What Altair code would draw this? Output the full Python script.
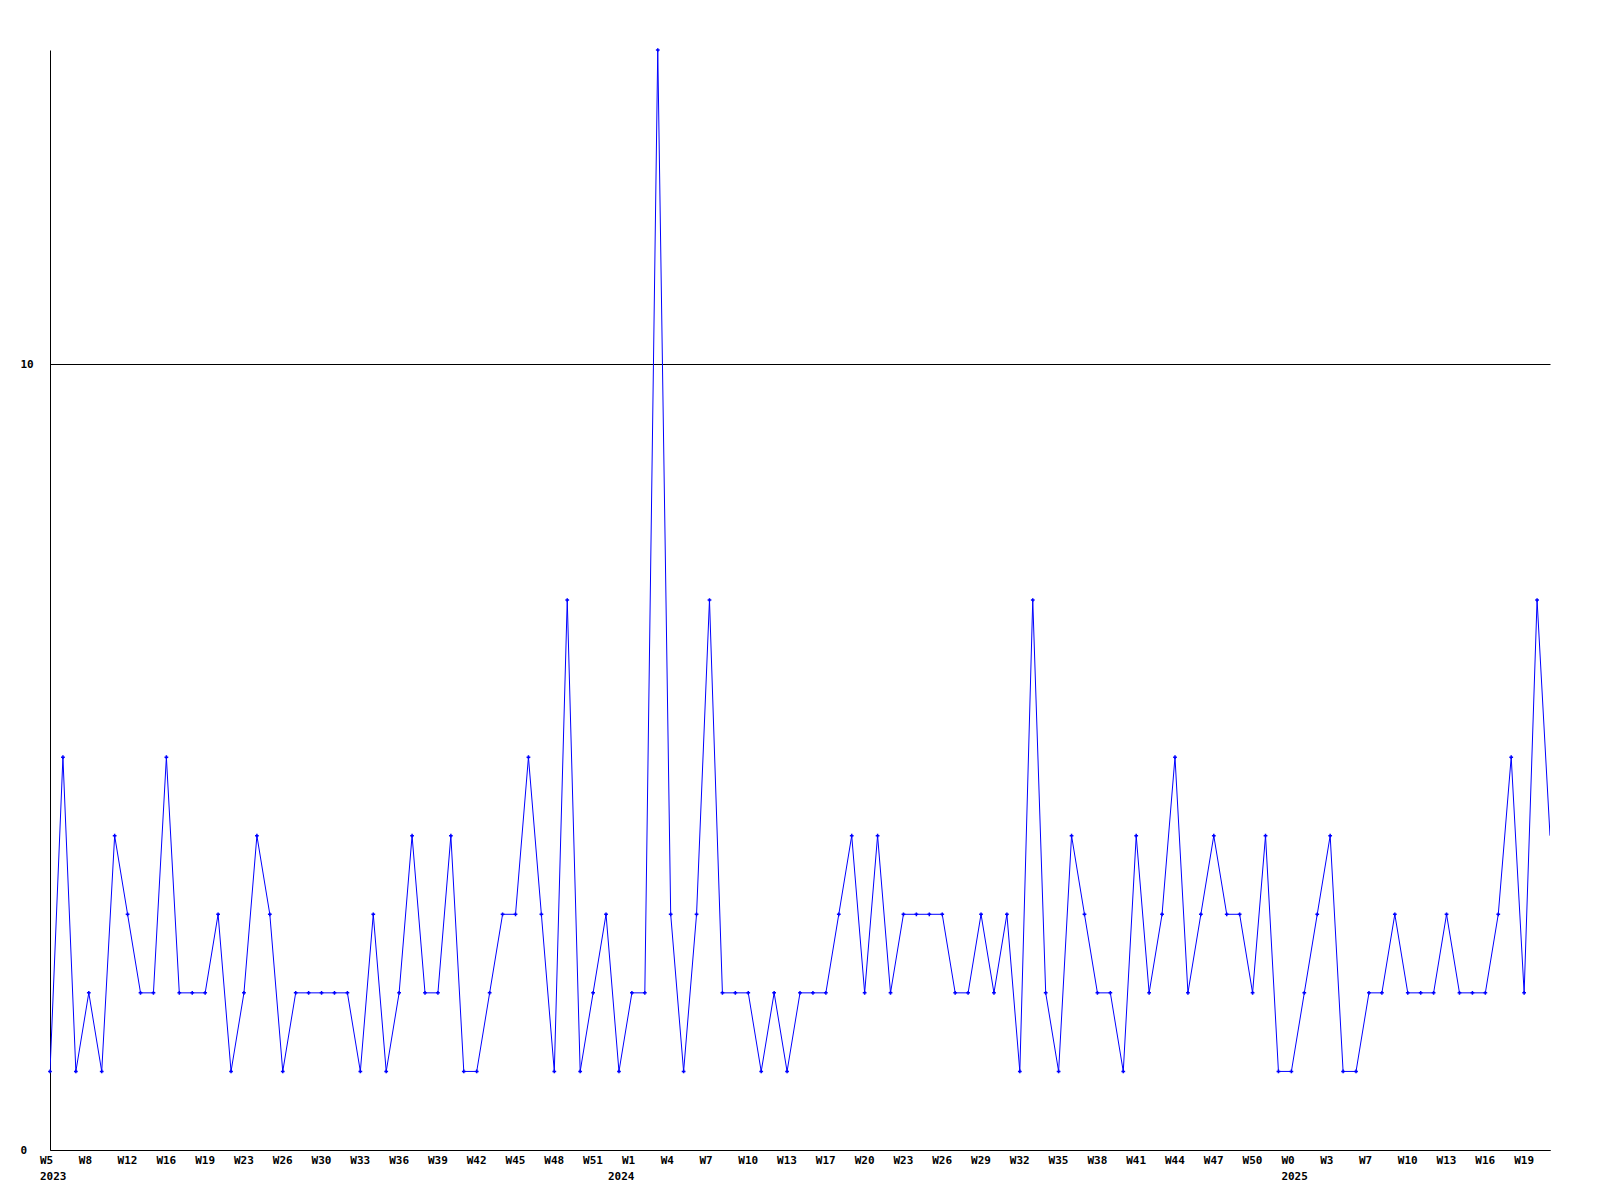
import altair as alt
import pandas as pd

values = [1, 5, 1, 2, 1, 4, 3, 2, 2, 5, 2, 2, 2, 3, 1, 2, 4, 3, 1, 2,
          2, 2, 2, 2, 1, 3, 1, 2, 4, 2, 2, 4, 1, 1, 2, 3, 3, 5, 3, 1,
          7, 1, 2, 3, 1, 2, 2, 14, 3, 1, 3, 7, 2, 2, 2, 1, 2, 1, 2, 2,
          2, 3, 4, 2, 4, 2, 3, 3, 3, 3, 2, 2, 3, 2, 3, 1, 7, 2, 1, 4,
          3, 2, 2, 1, 4, 2, 3, 5, 2, 3, 4, 3, 3, 2, 4, 1, 1, 2, 3, 4,
          1, 1, 2, 2, 3, 2, 2, 2, 3, 2, 2, 2, 3, 5, 2, 7, 4]

week_labels = ["W5", "W8", "W12", "W16", "W19", "W23", "W26", "W30", "W33", "W36",
               "W39", "W42", "W45", "W48", "W51",
               "W1", "W4", "W7", "W10", "W13", "W17", "W20", "W23", "W26", "W29",
               "W32", "W35", "W38", "W41", "W44", "W47", "W50",
               "W0", "W3", "W7", "W10", "W13", "W16", "W19"]
label_step = 3

years = ["2023", "2024", "2025"]
year_label_index = [0, 15, 32]  # position in week_labels

n = len(values)
df = pd.DataFrame({"i": list(range(n)), "v": values})
marker_df = df.iloc[:-1]

FONT = "DejaVu Sans Mono"

xscale = alt.Scale(domain=[0, n - 1], nice=False, zero=False)
yscale = alt.Scale(domain=[0, 14], nice=False)

x_enc = alt.X("i:Q", scale=xscale,
              axis=alt.Axis(values=[0], labels=False, title=None, grid=False,
                            ticks=False, domainColor="black"))
y_enc = alt.Y("v:Q", scale=yscale,
              axis=alt.Axis(values=[0, 10], format="d", title=None, grid=True,
                            gridColor="black", gridOpacity=1, gridWidth=1,
                            ticks=False, tickSize=0, domainColor="black",
                            labelAlign="left", labelPadding=30,
                            labelBaseline="middle", labelFont=FONT,
                            labelFontWeight="bold", labelFontSize=11,
                            labelColor="black"))

line = alt.Chart(df).mark_line(color="#0000ff", strokeWidth=1, clip=True).encode(x=x_enc, y=y_enc)
pts = alt.Chart(marker_df).mark_point(shape="cross", filled=True, size=14, color="#0000ff",
                                      opacity=1).encode(x="i:Q", y="v:Q")

wdf = pd.DataFrame({"i": [k * label_step for k in range(len(week_labels))],
                    "t": week_labels})
week_text = alt.Chart(wdf).mark_text(
    align="left", baseline="middle", dx=-10, font=FONT, fontWeight="bold",
    fontSize=11, color="black").encode(x="i:Q", y=alt.value(1111), text="t:N")

ydf = pd.DataFrame({"i": [year_label_index[k] * label_step for k in range(len(years))],
                    "t": years})
year_main = alt.Chart(ydf[ydf["t"] != "2024"]).mark_text(
    align="left", baseline="middle", dx=-10, font=FONT, fontWeight="bold",
    fontSize=11, color="black").encode(x="i:Q", y=alt.value(1127), text="t:N")
year_mid = alt.Chart(ydf[ydf["t"] == "2024"]).mark_text(
    align="left", baseline="middle", dx=-24, font=FONT, fontWeight="bold",
    fontSize=11, color="black").encode(x="i:Q", y=alt.value(1127), text="t:N")

chart = alt.layer(line, pts, week_text, year_main, year_mid).properties(
    width=1500, height=1100,
    autosize=alt.AutoSizeParams(type="none"),
    padding={"left": 42, "top": 42, "right": 40, "bottom": 40},
    background="white",
).configure_view(stroke=None)

chart.save("out.html", embed_options={"renderer": "svg", "actions": False})
